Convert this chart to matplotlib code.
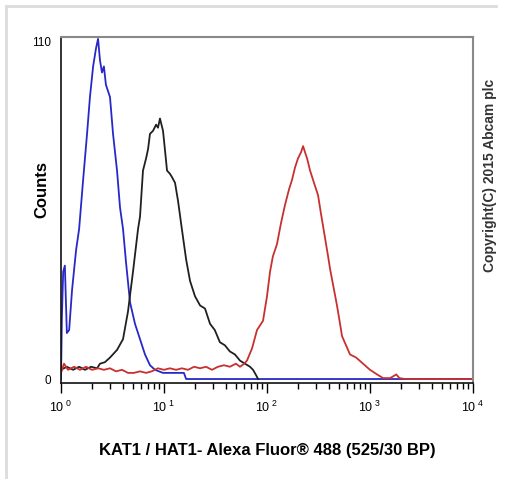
import numpy as np
import matplotlib
matplotlib.use("Agg")
import matplotlib.pyplot as plt
from matplotlib.lines import Line2D
from matplotlib.ticker import FixedLocator, LogLocator, NullFormatter

plt.rcParams['font.family'] = ['Liberation Sans', 'DejaVu Sans']
plt.rcParams['mathtext.fontset'] = 'custom'
plt.rcParams['mathtext.rm'] = 'Liberation Sans'

# isotype control (blue)
blue_x = [1.0, 1.02, 1.05, 1.09, 1.14, 1.20, 1.28, 1.40, 1.50, 1.64, 1.79, 1.91,
          2.05, 2.19, 2.29, 2.39, 2.50, 2.61, 2.73, 2.99, 3.20, 3.50, 3.74, 4.00,
          4.28, 4.68, 5.23, 5.85, 6.54, 7.31, 8.18, 9.78, 11.4, 13.7, 15.6, 16.4, 10000]
blue_y = [0, 20, 35, 37, 15, 16, 29, 42, 49, 65, 80, 92,
          102, 108, 111, 104, 100, 102, 96, 92, 80, 68, 56, 49,
          38, 25, 18, 13, 8, 4.5, 3, 2, 2, 2, 2, 0, 0]

# unlabelled control (black)
black_x = [1.0, 1.14, 1.31, 1.50, 1.71, 1.96, 2.24, 2.39, 2.67, 2.99, 3.50, 4.00,
           4.47, 5.00, 5.60, 5.85, 6.25, 6.70, 7.0, 7.31, 7.83, 8.38, 8.74, 9.14,
           9.78, 10.2, 10.7, 11.4, 11.9, 12.8, 13.7, 14.9, 16.4, 17.9, 20.0, 22.4,
           25.0, 28.0, 31.1, 34.9, 39.0, 43.6, 48.9, 54.7, 61.1, 68.4, 73.2, 78.2, 81.9]
black_y = [3, 4, 3, 4, 3, 4, 3.5, 5, 5.5, 7, 9.5, 13,
           22, 35, 49, 53, 68, 72, 75, 80, 81, 83, 82, 85,
           81, 75, 68, 67, 66, 64, 58, 49, 39, 32, 27, 24,
           23, 18, 16, 12, 11, 9, 8, 6, 5, 4, 3, 1.3, 0]

# KAT1 / HAT1 stained (red)
red_x = [1.0, 1.07, 1.17, 1.34, 1.53, 1.75, 2.0, 2.29, 2.61, 2.99, 3.42, 3.91,
         4.47, 5.1, 5.85, 6.7, 7.6, 8.74, 10.0, 11.4, 13.1, 14.9, 17.1, 19.6,
         22.4, 25.6, 29.2, 33.4, 38.2, 43.6, 49.9, 54.7, 59.9, 63.9, 71.6, 80.0,
         91.5, 100, 107, 114, 125, 137, 150, 164, 175, 187, 200, 214,
         224, 234, 245, 262, 286, 313, 334, 366, 392, 409, 448, 478,
         512, 535, 585, 640, 733, 857, 1000, 1170, 1340, 1570, 1800, 1930, 2200, 10000]
red_y = [2, 5, 3, 4, 3, 4, 3, 3.5, 3, 3.5, 2.5, 3,
         2, 2, 2.5, 2, 2.5, 3.5, 3, 3.5, 3, 3.5, 3, 4,
         3.5, 4, 3, 4, 4.5, 4, 5, 4, 5, 6, 10, 16,
         19, 27, 35, 40, 44, 51, 57, 62, 65, 69, 72, 74,
         76, 74, 72, 68, 64, 60, 54, 46, 40, 36, 29, 24,
         18, 14, 11, 8, 7, 5, 3, 1.5, 0.3, 0.3, 1.5, 0.3, 0, 0]

fig = plt.figure(figsize=(5.06, 4.79), dpi=100)
fig.patch.set_facecolor('white')

# light grey frame of the original screenshot
fig.add_artist(Line2D([6 / 506, 496 / 506], [1 - 6 / 479, 1 - 6 / 479],
                      transform=fig.transFigure, color='#dcdcdc', lw=2))
fig.add_artist(Line2D([6 / 506, 6 / 506], [1 - 6 / 479, 0.0],
                      transform=fig.transFigure, color='#dcdcdc', lw=2))

ax = fig.add_axes([61 / 506, 1 - 383 / 479, 412 / 506, 346 / 479])
ax.plot(blue_x, blue_y, color='#2828c8', lw=1.3)
ax.plot(black_x, black_y, color='#202020', lw=1.3)
ax.plot(red_x, red_y, color='#c83030', lw=1.3)

ax.set_xscale('log')
ax.set_xlim(1, 10000)
ax.set_ylim(-1.3, 111.6)

ax.xaxis.set_major_locator(FixedLocator([1, 10, 100, 1000, 10000]))
ax.set_xticklabels([r'$\mathregular{10^{\ %d}}$' % e for e in range(5)], fontsize=9)
ax.xaxis.set_minor_locator(LogLocator(base=10, subs=np.arange(2, 10)))
ax.xaxis.set_minor_formatter(NullFormatter())
ax.tick_params(axis='x', which='major', direction='out', length=7, width=1, pad=5)
ax.tick_params(axis='x', which='minor', direction='out', length=4, width=1)

ax.set_yticks([0, 110])
ax.set_yticklabels(['0', '110'], fontsize=8.5)
ax.tick_params(axis='y', length=0, pad=7)

for side in ['top', 'right']:
    ax.spines[side].set_color('#888888')
    ax.spines[side].set_linewidth(1.5)
for side in ['left', 'bottom']:
    ax.spines[side].set_color('#111111')
    ax.spines[side].set_linewidth(1.2)

fig.text(42 / 506, 1 - 190 / 479, 'Counts', rotation=90, ha='center', va='center',
         fontsize=12, fontweight='bold')
fig.text(267 / 506, 1 - 450 / 479, 'KAT1 / HAT1- Alexa Fluor® 488 (525/30 BP)',
         ha='center', va='center', fontsize=12, fontweight='bold')
fig.text(490 / 506, 1 - 175 / 479, 'Copyright(C) 2015 Abcam plc', rotation=90,
         ha='center', va='center', fontsize=10, fontweight='bold', color='#333333')

fig.savefig('out.png', dpi=100)
